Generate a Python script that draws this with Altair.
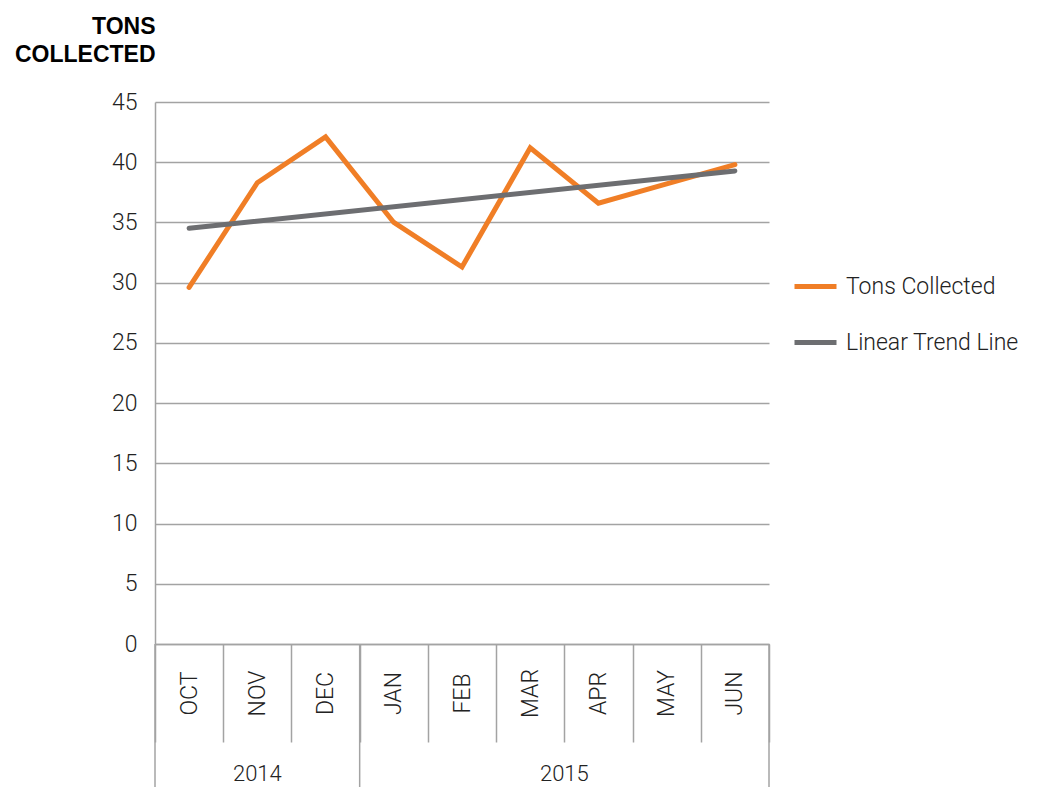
import altair as alt
import pandas as pd

# Monthly tonnage, Oct 2014 - Jun 2015
months = ["OCT", "NOV", "DEC", "JAN", "FEB", "MAR", "APR", "MAY", "JUN"]
tons = [29.6, 38.3, 42.1, 35.0, 31.3, 41.2, 36.6, 38.2, 39.8]
years = ["2014", "2015"]
months_per_year = [3, 6]

series_names = ["Tons Collected", "Linear Trend Line"]
series_colors = ["#F07E26", "#6D6E71"]
y_ticks = list(range(0, 50, 5))

W, H = 614, 542
GRID = "#A3A3A3"
TEXT = "#222222"
FONT = "Roboto"
FONT_W = 300
FS = 23

df = pd.DataFrame({"month": months, "i": list(range(len(months))), "tons": tons})
base = alt.Chart(df)

x_scale = alt.Scale(type="band", domain=months, paddingInner=0, paddingOuter=0)
color_scale = alt.Scale(domain=series_names, range=series_colors)

x_axis = alt.Axis(
    title=None, labelAngle=270, labelAlign="center", labelBaseline="middle",
    labelPadding=-49, labelFont=FONT, labelFontWeight=FONT_W, labelFontSize=FS,
    labelColor=TEXT, tickBand="extent", tickSize=98, tickColor=GRID, tickWidth=1.5,
    domainColor=GRID, domainWidth=1.5, grid=False,
)
y_axis = alt.Axis(
    title=["TONS", "COLLECTED"], titleAngle=0, titleAlign="right",
    titleBaseline="alphabetic", titleX=0, titleY=-69, titleLineHeight=28,
    titleFont="Liberation Sans", titleFontWeight="bold", titleFontSize=23,
    titleColor="#000000", values=y_ticks, labelFont=FONT, labelFontWeight=FONT_W,
    labelFontSize=FS, labelColor=TEXT, labelPadding=18, ticks=False,
    domainColor=GRID, domainWidth=1.5, gridColor=GRID, gridWidth=1.5,
)

legend = alt.Legend(
    title=None, orient="none", legendX=637, legendY=161, symbolType="stroke",
    symbolSize=1764, symbolStrokeWidth=5, labelFont=FONT, labelFontWeight=FONT_W,
    labelFontSize=FS, labelColor=TEXT, labelOffset=7, labelLimit=400, rowPadding=20,
)

color_enc = alt.Color("series:N", scale=color_scale, legend=legend)

line = (
    base.transform_calculate(series=f"'{series_names[0]}'")
    .mark_line(strokeWidth=5, strokeCap="round", strokeJoin="miter")
    .encode(
        x=alt.X("month:N", scale=x_scale, axis=x_axis),
        y=alt.Y("tons:Q", scale=alt.Scale(domain=[0, 45], nice=False), axis=y_axis),
        color=color_enc,
    )
)

# Least-squares fit over month index, mapped back onto the month labels
month_expr = "[" + ",".join(f"'{m}'" for m in months) + "][datum.i]"
trend = (
    base.transform_regression("i", "tons", method="linear")
    .transform_calculate(month=month_expr, series=f"'{series_names[1]}'")
    .mark_line(strokeWidth=5, strokeCap="round")
    .encode(
        x=alt.X("month:N", scale=x_scale),
        y=alt.Y("tons:Q"),
        color=color_enc,
    )
)

# Year row: separators and centred year labels under the month labels
starts, idx = [], 0
for n in months_per_year:
    starts.append(idx)
    idx += n

sep_left = alt.Chart(pd.DataFrame({"month": [months[s] for s in starts]})).mark_rule(
    color=GRID, strokeWidth=1.5
).encode(
    x=alt.X("month:N", scale=x_scale, bandPosition=0),
    y=alt.value(H), y2=alt.value(H + 143),
)
sep_right = alt.Chart(pd.DataFrame({"month": [months[-1]]})).mark_rule(
    color=GRID, strokeWidth=1.5
).encode(
    x=alt.X("month:N", scale=x_scale, bandPosition=1),
    y=alt.value(H), y2=alt.value(H + 143),
)

year_labels = []
for yr, s, n in zip(years, starts, months_per_year):
    mid = s + n / 2
    k = int(mid)
    year_labels.append(
        alt.Chart(pd.DataFrame({"month": [months[k]], "year": [yr]}))
        .mark_text(font=FONT, fontWeight=FONT_W, fontSize=22, color=TEXT, baseline="middle")
        .encode(
            x=alt.X("month:N", scale=x_scale, bandPosition=mid - k),
            y=alt.value(H + 130),
            text="year:N",
        )
    )

chart = alt.layer(line, trend, sep_left, sep_right, *year_labels).properties(
    width=W, height=H,
    autosize=alt.AutoSizeParams(type="none"),
    padding={"left": 155, "top": 102, "right": 275, "bottom": 143},
    background="#FFFFFF",
).configure_view(strokeWidth=0)

chart.save("out.html", embed_options={"renderer": "svg", "actions": False})
